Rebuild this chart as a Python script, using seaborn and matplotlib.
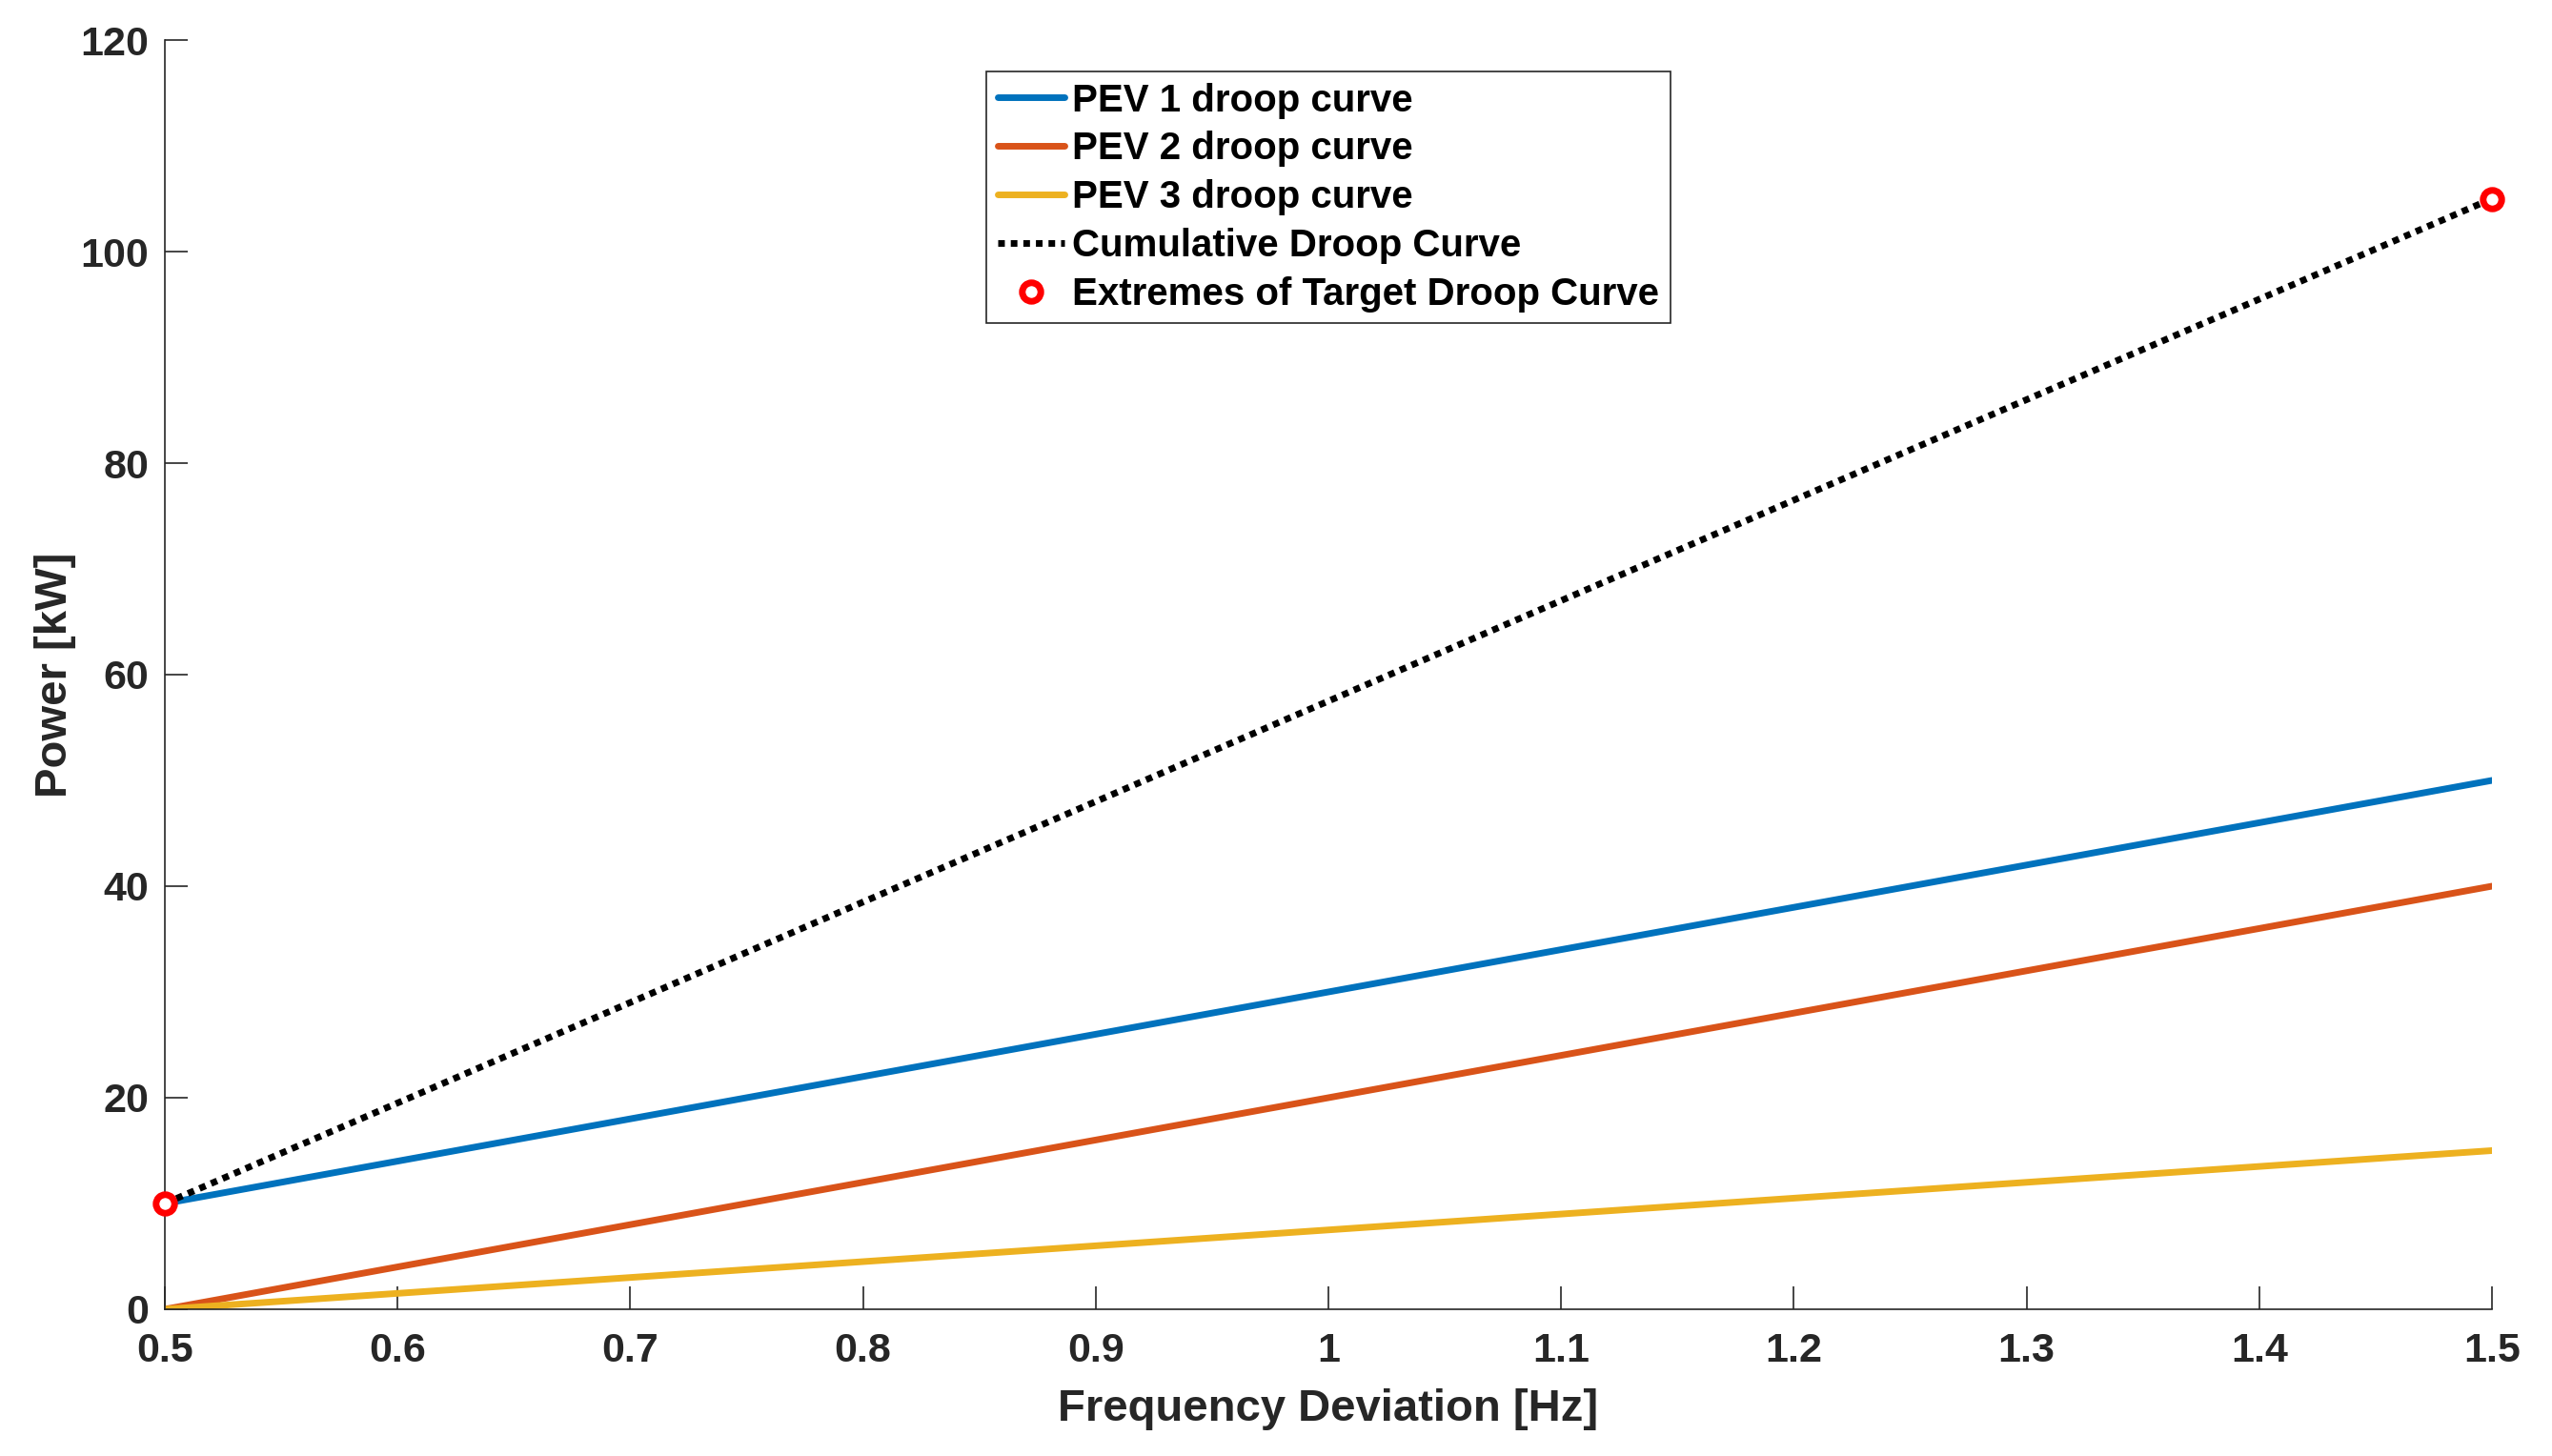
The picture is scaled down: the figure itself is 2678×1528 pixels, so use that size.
import numpy as np
import pandas as pd
import matplotlib
matplotlib.use('Agg')
import matplotlib.pyplot as plt
import seaborn as sns

# dane
freq = [0.5, 1.5]
pev1 = [10, 50]
pev2 = [0, 40]
pev3 = [0, 15]
cumulative = [10, 105]
extremes_x = [0.5, 1.5]
extremes_y = [10, 105]

series_names = ['PEV 1 droop curve', 'PEV 2 droop curve', 'PEV 3 droop curve']
series_colors = ['#0072BD', '#D95319', '#EDB120']

sns.set_theme(style='ticks')
plt.rcParams['font.family'] = ['Liberation Sans', 'DejaVu Sans']
plt.rcParams['font.weight'] = 'bold'
plt.rcParams['axes.labelweight'] = 'bold'

ax_color = '#262626'

fig = plt.figure(figsize=(26.78, 15.28), dpi=100)
ax = fig.add_axes([0.0646, 0.1008, 0.9765 - 0.0646, 0.9725 - 0.1008])

df = pd.DataFrame({'freq': freq, 'PEV1': pev1, 'PEV2': pev2, 'PEV3': pev3, 'cum': cumulative})

for col, name, c in zip(['PEV1', 'PEV2', 'PEV3'], series_names, series_colors):
    sns.lineplot(data=df, x='freq', y=col, ax=ax, color=c, linewidth=5, label=name)

sns.lineplot(data=df, x='freq', y='cum', ax=ax, color='black', linewidth=5,
             linestyle=(0, (1, 0.9)), label='Cumulative Droop Curve')
ax.lines[-1].set_dash_capstyle('butt')

# punkty skrajne docelowej krzywej
ax.plot(extremes_x, extremes_y, linestyle='none', marker='o', markersize=14,
        markerfacecolor='white', markeredgecolor='red', markeredgewidth=5,
        label='Extremes of Target Droop Curve', zorder=5, clip_on=False)

ax.set_xlim(0.5, 1.5)
ax.set_ylim(0, 120)
ax.set_xticks(np.arange(0.5, 1.51, 0.1))
ax.set_xticklabels(['0.5', '0.6', '0.7', '0.8', '0.9', '1', '1.1', '1.2', '1.3', '1.4', '1.5'])
ax.set_yticks(np.arange(0, 121, 20))

ax.set_xlabel('Frequency Deviation [Hz]', fontsize=34, color=ax_color, labelpad=14)
ax.set_ylabel('Power [kW]', fontsize=34, color=ax_color, labelpad=3)

ax.tick_params(direction='in', length=17, width=1.2, colors=ax_color, labelsize=31)
ax.tick_params(axis='x', pad=17)
ax.tick_params(axis='y', pad=12)
for lab in ax.get_xticklabels() + ax.get_yticklabels():
    lab.set_fontweight('bold')
for side in ['left', 'bottom']:
    ax.spines[side].set_color(ax_color)
    ax.spines[side].set_linewidth(1.2)
sns.despine(ax=ax)

leg = ax.legend(loc='upper center', bbox_to_anchor=(0.5, 0.975), fontsize=29,
                frameon=True, fancybox=False, framealpha=1, edgecolor=ax_color,
                handlelength=1.75, handletextpad=0.2, labelspacing=0.32,
                borderpad=0.28, borderaxespad=0)
leg.get_frame().set_linewidth(1.2)
for t in leg.get_texts():
    t.set_fontweight('bold')
    t.set_color('black')

fig.savefig('out.png', dpi=100)
